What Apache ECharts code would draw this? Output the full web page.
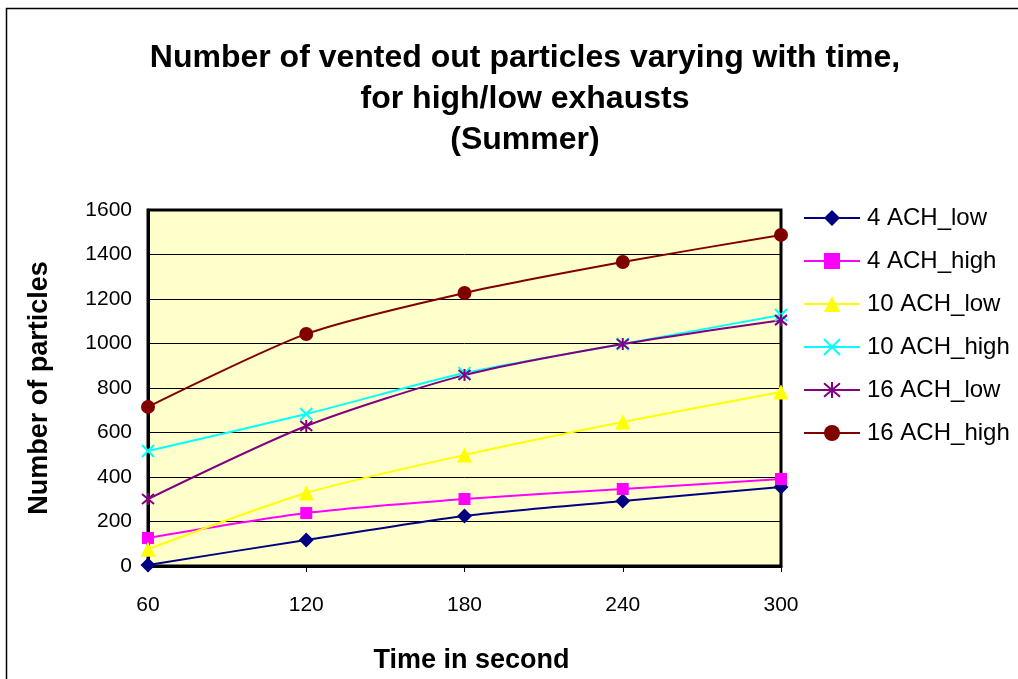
<!DOCTYPE html>
<html>
<head>
<meta charset="utf-8">
<script src="https://cdn.jsdelivr.net/npm/echarts@6/dist/echarts.min.js"></script>
<style>
  html, body { margin: 0; padding: 0; background: #fff; }
  #chart { width: 1018px; height: 679px; }
</style>
</head>
<body>
<div id="chart"></div>
<script>
// Time steps (seconds) and vented-out particle counts per ventilation case
const times = ['60', '120', '180', '240', '300'];
const ach4Low   = [5, 117, 225, 292, 355];
const ach4High  = [126, 238, 301, 346, 391];
const ach10Low  = [75, 328, 499, 647, 782];
const ach10High = [517, 683, 867, 998, 1128];
const ach16Low  = [301, 629, 858, 998, 1105];
const ach16High = [715, 1043, 1227, 1366, 1488];

const seriesNames = ['4 ACH_low', '4 ACH_high', '10 ACH_low', '10 ACH_high', '16 ACH_low', '16 ACH_high'];
const FONT = '"Liberation Sans", Arial, sans-serif';

const crossPath = 'path://M0,0L10,10M10,0L0,10';
const starPath = 'path://M0,0L10,10M10,0L0,10M5,-1L5,11';

function makeSeries(name, data, color, symbol, size, stroked) {
  return {
    name: name,
    type: 'line',
    data: data,
    smooth: 0.25,
    symbol: symbol,
    symbolSize: size,
    showAllSymbol: true,
    lineStyle: { color: color, width: 2 },
    itemStyle: stroked
      ? { color: 'none', borderColor: color, borderWidth: 2 }
      : { color: color, borderColor: color, borderWidth: 0 },
    emphasis: { disabled: true },
    z: 3
  };
}

const chart = echarts.init(document.getElementById('chart'), null, { renderer: 'canvas' });

chart.setOption({
  animation: false,
  backgroundColor: '#ffffff',
  title: {
    text: 'Number of vented out particles varying with time,\nfor high/low exhausts\n(Summer)',
    left: 520,
    top: 33,
    textAlign: 'center',
    textStyle: {
      fontFamily: FONT,
      fontSize: 32,
      fontWeight: 'bold',
      color: '#000',
      lineHeight: 41
    }
  },
  graphic: [{
    type: 'rect',
    shape: { x: 6.5, y: 8.5, width: 1030, height: 700 },
    style: { fill: 'none', stroke: '#000', lineWidth: 1.5 },
    silent: true,
    z: -1
  }],
  legend: {
    orient: 'vertical',
    left: 803,
    top: 206,
    padding: 0,
    itemWidth: 56,
    itemHeight: 20,
    itemGap: 19,
    data: seriesNames,
    textStyle: { fontFamily: FONT, fontSize: 24, lineHeight: 24, color: '#000', padding: [0, 0, 0, 2] }
  },
  grid: {
    left: 148,
    top: 210,
    width: 633,
    height: 356,
    show: true,
    backgroundColor: '#FFFFCC',
    borderColor: '#000',
    borderWidth: 3,
    containLabel: false,
    outerBoundsMode: 'none'
  },
  xAxis: {
    type: 'category',
    data: times,
    boundaryGap: false,
    name: 'Time in second',
    nameLocation: 'middle',
    nameGap: 81,
    nameTextStyle: { fontFamily: FONT, fontSize: 27, fontWeight: 'bold', color: '#000', padding: [0, 0, 0, 14] },
    axisLine: { show: true, lineStyle: { color: '#000', width: 3 } },
    axisTick: { show: true, inside: false, length: 6, lineStyle: { color: '#000', width: 1 } },
    axisLabel: { fontFamily: FONT, fontSize: 21, color: '#000', margin: 29 },
    splitLine: { show: false }
  },
  yAxis: {
    type: 'value',
    min: 0,
    max: 1600,
    interval: 200,
    name: 'Number of particles',
    nameLocation: 'middle',
    nameGap: 95,
    nameRotate: 90,
    nameTextStyle: { fontFamily: FONT, fontSize: 27, fontWeight: 'bold', color: '#000' },
    axisLine: { show: true, lineStyle: { color: '#000', width: 3 } },
    axisTick: { show: false },
    axisLabel: {
      fontFamily: FONT, fontSize: 21, color: '#000', margin: 16,
      formatter: function (v) { return String(v); }
    },
    splitLine: { show: true, lineStyle: { color: '#000', width: 1 } }
  },
  series: [
    makeSeries(seriesNames[0], ach4Low, '#000080', 'diamond', 15, false),
    makeSeries(seriesNames[1], ach4High, '#FF00FF', 'rect', 12, false),
    makeSeries(seriesNames[2], ach10Low, '#FFFF00', 'triangle', 15, false),
    makeSeries(seriesNames[3], ach10High, '#00FFFF', crossPath, 12, true),
    makeSeries(seriesNames[4], ach16Low, '#800080', starPath, 12, true),
    makeSeries(seriesNames[5], ach16High, '#800000', 'circle', 14, false)
  ]
});
</script>
</body>
</html>
